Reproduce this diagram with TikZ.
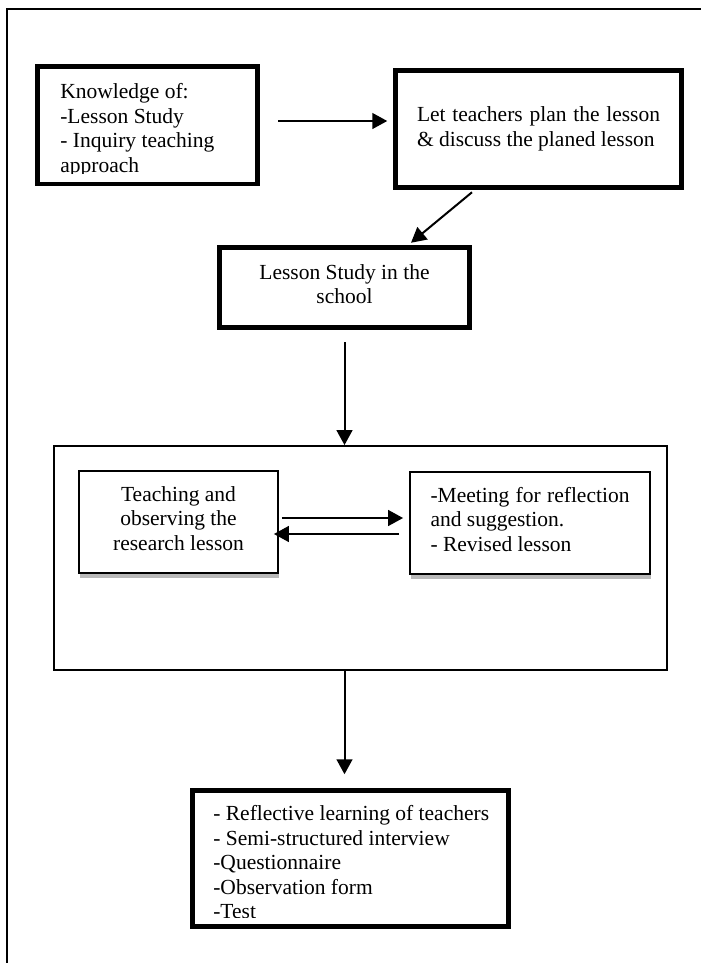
\documentclass[tikz,border=0pt]{standalone}
\usepackage{fontspec}
\setmainfont{Liberation Serif}
\usetikzlibrary{calc,positioning,arrows.meta,shadows}

\begin{document}
\begin{tikzpicture}[x=0.6pt,y=-0.6pt,
txt/.style={font=\fontsize{12.9}{14.7}\selectfont,inner sep=0pt},
thickbox/.style={txt,draw,line width=2.7pt},
thinbox/.style={txt,draw,line width=1.1pt,fill=white,
    general shadow={fill=gray!55,shadow xshift=0.6pt,shadow yshift=-2.8pt}},
arr/.style={line width=1.2pt,-{Triangle[length=9pt,width=9.5pt]}}
]
\useasboundingbox (0,0) rectangle (701,963);
\draw[line width=0.8pt] (7,963) -- (7,9) -- (701,9);

\node[thickbox,minimum width=132pt,minimum height=70.5pt] (know) at (147.5,125) {};
\node[thickbox,minimum width=171.6pt,minimum height=70.2pt,align=left] (plan) at (538.5,129)
    {\makebox[145.8pt][s]{Let teachers plan the lesson}\\ \& discuss the planed lesson};
\node[thickbox,minimum width=150pt,minimum height=48pt,align=center] (study) at (344.5,287.5)
    {Lesson Study in the\\school\strut};
\node[draw,line width=1.1pt,minimum width=367.8pt,minimum height=134.4pt] (cycle) at (360.5,558) {};
\node[thinbox,minimum width=119.4pt,minimum height=61.2pt,align=center] (teach) at (178.5,522)
    {Teaching and\\observing the\\research lesson\strut};
\node[thinbox,minimum width=144pt,minimum height=61.2pt,align=left] (meet) at (530,523)
    {\makebox[119.4pt][s]{-Meeting for reflection}\\and suggestion.\\- Revised lesson\strut};
\node[thickbox,minimum width=189.6pt,minimum height=81.6pt] (result) at (350.5,858.5) {};

\begin{scope}
\clip (know.north west) rectangle ($(know.south east)+(0,-12.5)$);
\node[txt,anchor=north west,align=left] (knowtext) at (60,83.3)
    {Knowledge of:\\-Lesson Study\\- Inquiry teaching\\approach};
\end{scope}
\begin{scope}
\clip (result.north west) rectangle ($(result.south east)+(0,-11)$);
\node[txt,anchor=north west,align=left] (resulttext) at (213,805.3)
    {- Reflective learning of teachers\\- Semi-structured interview\\-Questionnaire\\-Observation form\\-Test};
\end{scope}

\draw[arr] ($(know.east)+(18.5,-4)$) -- ($(plan.west)+(-6,-8)$);
\draw[arr] ($(plan.south)+(-66.5,2.5)$) -- ($(study.north)+(66.5,-2.5)$);
\draw[arr] ($(study.south)+(0,12.5)$) -- (study.south |- cycle.north);
\draw[arr] (study.south |- cycle.south) -- ($(study.south |- result.north)+(0,-14)$);
\draw[arr] ($(teach.east)+(3,-4)$) -- ($(meet.west)+(-6,-5)$);
\draw[arr] ($(meet.west)+(-10,11)$) -- ($(teach.east)+(-5,12)$);
\end{tikzpicture}
\end{document}
